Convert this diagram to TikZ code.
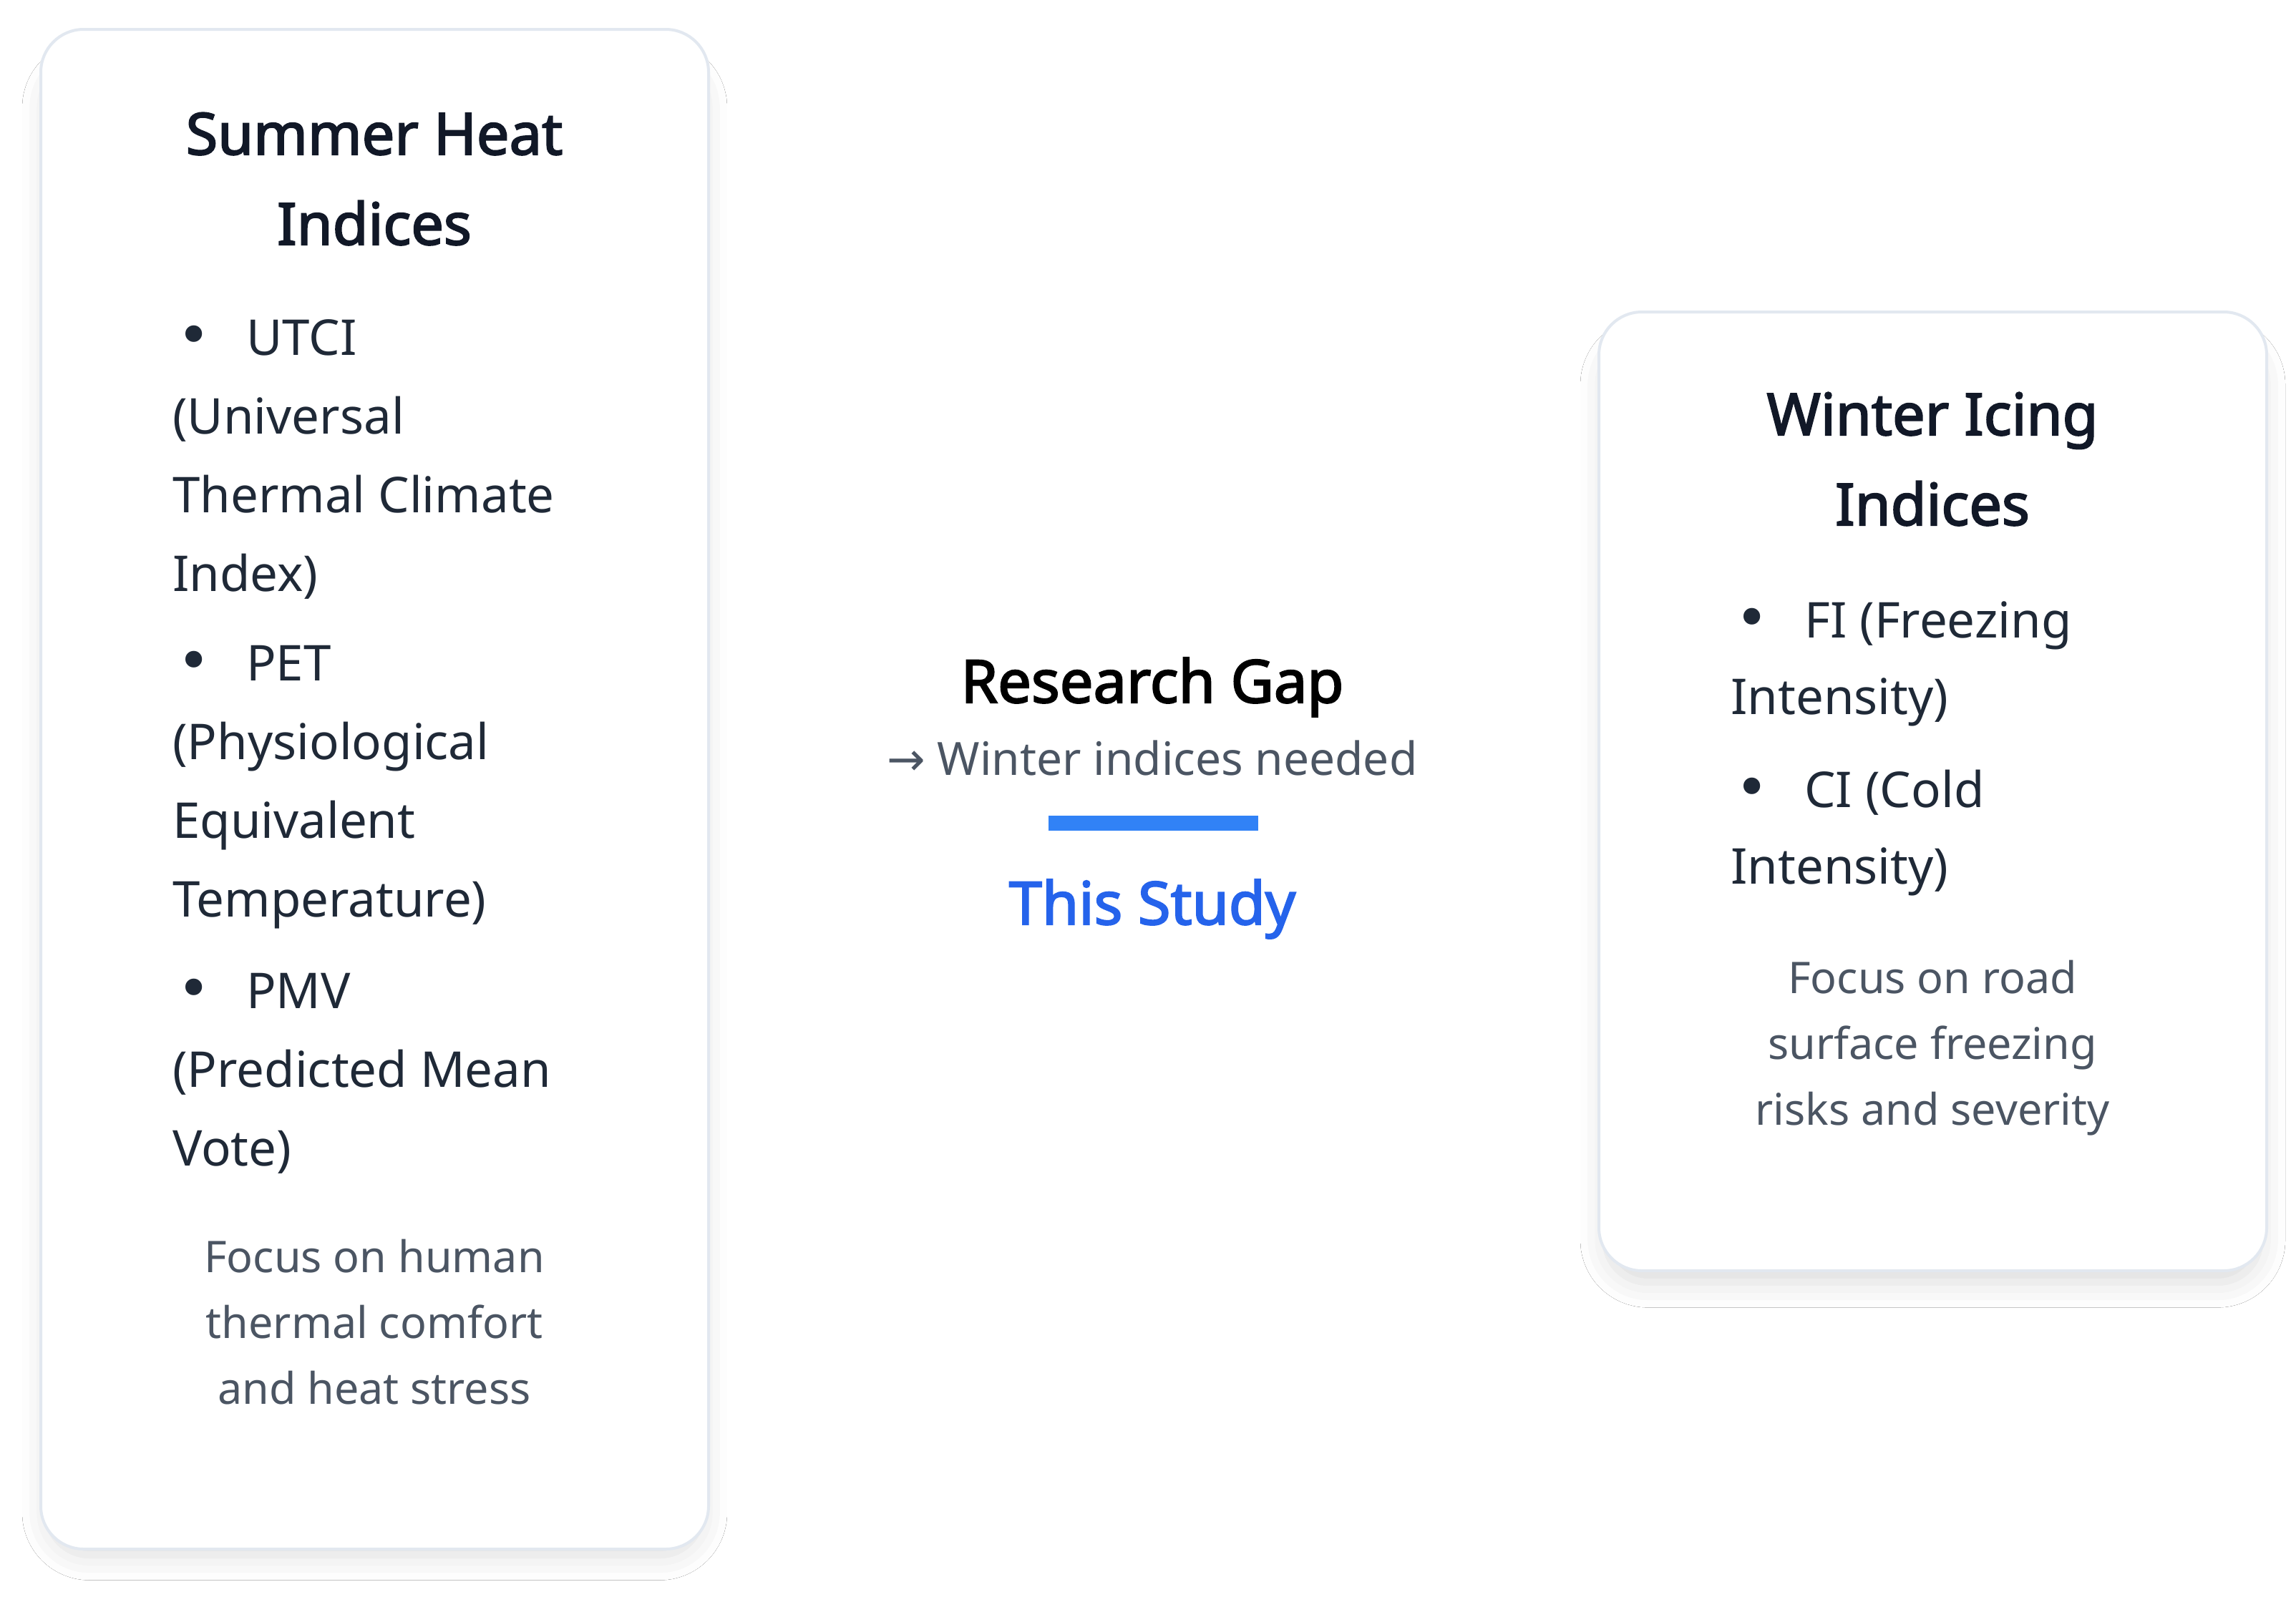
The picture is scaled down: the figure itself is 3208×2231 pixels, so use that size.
\documentclass[tikz,border=0pt]{standalone}
\usepackage{fontspec}
\setmainfont{Noto Sans}[AutoFakeBold=2.5]
\newfontfamily\arrowfont{DejaVu Sans}
\usetikzlibrary{positioning, shadows.blur}

\definecolor{cardline}{RGB}{226,232,240}
\definecolor{titleink}{RGB}{17,24,39}
\definecolor{bodyink}{RGB}{31,41,55}
\definecolor{noteink}{RGB}{75,85,99}
\definecolor{studyblue}{RGB}{37,99,235}
\definecolor{barblue}{RGB}{49,130,246}

\tikzset{
  card/.style={draw=cardline, line width=4pt, fill=white, rounded corners=60pt,
    blur shadow={shadow xshift=0pt, shadow yshift=-30pt, shadow blur radius=36pt, shadow opacity=14, shadow scale=0.98}},
  cardtitle/.style={font=\fontsize{81}{126}\selectfont\bfseries, text=titleink, align=center, inner sep=0pt, anchor=base},
  item/.style={font=\fontsize{69}{110}\selectfont, text=bodyink, align=left, inner sep=0pt, anchor=base west},
  note/.style={font=\fontsize{61}{92}\selectfont, text=noteink, align=center, inner sep=0pt, anchor=base},
  gaptext/.style={font=\fontsize{83}{100}\selectfont\bfseries, inner sep=0pt, anchor=base},
}
\newcommand{\bul}{\makebox[103pt][l]{\hspace{6pt}{\arrowfont\fontsize{80}{110}\selectfont •}}}

\begin{document}
\begin{tikzpicture}[x=1pt, y=-1pt]
  \fill[white] (0,0) rectangle (3208,2231);
  \useasboundingbox (0,0) rectangle (3208,2231);

  % cards
  \node[card, minimum width=933pt, minimum height=2124pt] (summer) at (523.5,1103) {};
  \node[card, minimum width=933pt, minimum height=1340pt] (winter) at (2700.5,1106) {};

  % summer heat indices (base = last line)
  \node[cardtitle] (summertitle) at (523,342) {Summer Heat\\Indices};
  \node[item] (utci) at (241,826) {\bul UTCI\\(Universal\\Thermal Climate\\Index)};
  \node[item] (pet) at (241,1281) {\bul PET\\(Physiological\\Equivalent\\Temperature)};
  \node[item] (pmv) at (241,1629) {\bul PMV\\(Predicted Mean\\Vote)};
  \node[note] (summernote) at (523,1962) {Focus on human\\thermal comfort\\and heat stress};

  % winter icing indices
  \node[cardtitle] (wintertitle) at (2700,734) {Winter Icing\\Indices};
  \node[item, font=\fontsize{69}{107}\selectfont] (fi) at (2418,998) {\bul FI (Freezing\\Intensity)};
  \node[item, font=\fontsize{69}{107}\selectfont] (ci) at (2418,1235) {\bul CI (Cold\\Intensity)};
  \node[note] (winternote) at (2700,1572) {Focus on road\\surface freezing\\risks and severity};

  % research gap
  \node[gaptext, text=black] (gap) at (1610,982) {Research Gap};
  \node[note, font=\fontsize{64}{80}\selectfont] (need) at (1610,1083) {{\arrowfont →} Winter indices needed};
  \fill[barblue] (1465,1140) rectangle (1758,1161);
  \node[gaptext, text=studyblue] (study) at (1610,1292) {This Study};
\end{tikzpicture}
\end{document}
